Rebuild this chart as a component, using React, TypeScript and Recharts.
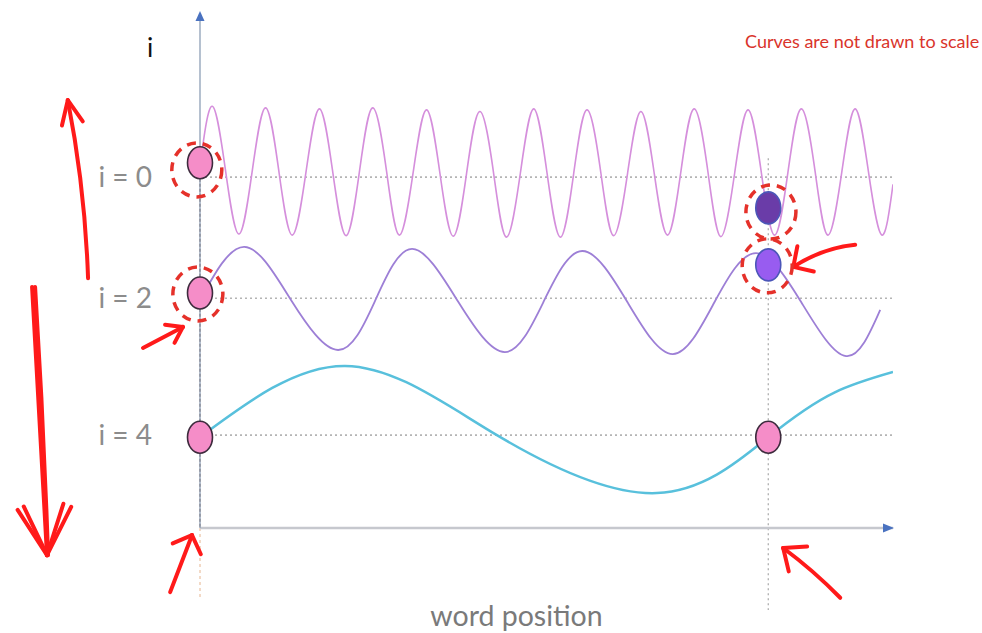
import React from 'react';
import { ComposedChart, Line, XAxis, YAxis, ReferenceLine, ReferenceDot } from 'recharts';

// word position runs 0..13, the vertical value scale 0..100
const fastWave = [
  [0, 70.5],
  [0.23, 82.2], [0.48, 69.6], [0.73, 57.3], [0.98, 69.6],
  [1.23, 81.9], [1.48, 69.5], [1.73, 57.1], [1.99, 69.5],
  [2.24, 81.7], [2.49, 69.4], [2.74, 57.0], [2.99, 69.4],
  [3.24, 81.9], [3.5, 69.5], [3.74, 57.1], [4.0, 69.4],
  [4.25, 81.5], [4.5, 69.2], [4.75, 56.9], [5.0, 69.1],
  [5.25, 81.2], [5.51, 69.0], [5.75, 56.7], [6.01, 69.2],
  [6.26, 81.7], [6.51, 69.2], [6.76, 56.7], [7.01, 69.1],
  [7.26, 81.5], [7.52, 69.2], [7.76, 57.0], [8.02, 69.1],
  [8.27, 81.2], [8.52, 69.2], [8.77, 57.1], [9.02, 69.4],
  [9.27, 81.7], [9.53, 69.3], [9.77, 56.8], [10.03, 69.2],
  [10.28, 81.5], [10.53, 69.3], [10.78, 57.1], [11.03, 69.4],
  [11.28, 81.7], [11.54, 69.4], [11.78, 57.1], [12.04, 69.4],
  [12.29, 81.7], [12.54, 69.4], [12.79, 57.1], [13.0, 67.0],
];

const midWave = [
  [0, 44.4], [0.83, 54.8], [1.71, 44.4], [2.59, 34.7], [3.28, 44.2],
  [3.98, 54.4], [4.85, 44.0], [5.72, 34.3], [6.44, 44.0], [7.17, 54.0],
  [8.02, 44.0], [8.87, 33.9], [9.65, 44.0], [10.43, 53.6], [11.28, 44.0],
  [12.12, 33.5], [12.76, 42.5],
];

const slowWave = [
  [0, 17.7], [2.72, 31.6], [5.57, 18.1], [8.57, 6.8], [10.66, 17.7], [11.9, 26.4], [13.0, 30.4],
];

const levelValues = [68.4, 44.8, 18.1];
const levelLabels = ['i = 0', 'i = 2', 'i = 4'];

const probePosition = 10.66;

const pinkDots = [[0, 71.2], [0, 45.8], [0, 17.7], [10.66, 17.7]];
const purpleDots = [[10.66, 62.4], [10.66, 51.3]];
const highlightRings = [[-0.06, 69.8], [-0.04, 45.6], [10.71, 61.6], [10.64, 51.1]];

// hand drawn red arrows: tail -> tip
const handArrows = [
  { from: [-2.1, 48.7], to: [-2.48, 83.4] },
  { from: [-3.15, 47.0], to: [-2.87, -5.3] },
  { from: [-1.07, 35.1], to: [-0.32, 39.2] },
  { from: [-0.56, -12.5], to: [-0.15, -1.4] },
  { from: [12.29, 55.2], to: [11.13, 50.9] },
  { from: [12.01, -13.6], to: [10.94, -3.9] },
];

const arrowLooks = [
  { head: 26, spread: 0.42, bend: 0.02, double: false },
  { head: 54, spread: 0.52, bend: 0, double: true },
  { head: 18, spread: 0.6, bend: 0, double: false },
  { head: 21, spread: 0.8, bend: 0, double: false },
  { head: 21, spread: 0.8, bend: 0.06, double: false },
  { head: 24, spread: 0.7, bend: 0.02, double: false },
];

const toPoints = (rows: number[][]) => rows.map(([x, y]) => ({ x, y }));

const RED = '#ff1a1a';

const makeArrow = (look: { head: number; spread: number; bend: number; double: boolean }) =>
  (props: any) => {
    const { x1, y1, x2, y2 } = props;
    const dx = x2 - x1;
    const dy = y2 - y1;
    const len = Math.hypot(dx, dy) || 1;
    const px = -dy / len;
    const py = dx / len;
    const mx = (x1 + x2) / 2 + px * look.bend * len;
    const my = (y1 + y2) / 2 + py * look.bend * len;
    const cx = 2 * mx - (x1 + x2) / 2;
    const cy = 2 * my - (y1 + y2) / 2;
    const back = Math.atan2(cy - y2, cx - x2);
    const arm = (a: number) => `M${x2 + Math.cos(a) * look.head},${y2 + Math.sin(a) * look.head} L${x2},${y2}`;
    const shaft = `M${x1},${y1} Q${cx},${cy} ${x2},${y2}`;
    return (
      <g fill="none" stroke={RED} strokeWidth={4} strokeLinecap="round" strokeLinejoin="round">
        <path d={shaft} />
        {look.double && <path d={`M${x1 + 3},${y1} Q${cx + 4},${cy} ${x2 + 1},${y2}`} />}
        <path d={arm(back + look.spread)} />
        <path d={arm(back - look.spread)} />
        {look.double && <path d={arm(back + look.spread * 0.7)} />}
        {look.double && <path d={arm(back - look.spread * 0.75)} />}
      </g>
    );
  };

const Ellipse = (fill: string, stroke: string) => (props: any) => (
  <ellipse cx={props.cx} cy={props.cy} rx={12.5} ry={16} fill={fill} stroke={stroke} strokeWidth={1.6} />
);

const Ring = (props: any) => (
  <ellipse cx={props.cx} cy={props.cy} rx={25} ry={27} fill="none" stroke="#e5312a" strokeWidth={3.5} strokeDasharray="9 7" />
);

const UpHead = (props: any) => (
  <polygon points={`${props.cx},${props.cy - 2} ${props.cx - 4.5},${props.cy + 8} ${props.cx + 4.5},${props.cy + 8}`} fill="#4a72c0" />
);

const RightHead = (props: any) => (
  <polygon points={`${props.cx + 1},${props.cy} ${props.cx - 10},${props.cy - 4.5} ${props.cx - 10},${props.cy + 4.5}`} fill="#4a72c0" />
);

export default function App() {
  return (
    <div style={{ position: 'absolute', left: 0, top: 0, width: 982, height: 633, background: '#fff', fontFamily: 'Lato, sans-serif' }}>
      <ComposedChart width={982} height={633} margin={{ top: 15, right: 89, bottom: 0, left: 0 }}>
        <XAxis
          type="number"
          dataKey="x"
          domain={[0, 13]}
          allowDataOverflow
          tick={false}
          tickLine={false}
          height={105}
          axisLine={{ stroke: '#c6c8ce', strokeWidth: 2.5 }}
          label={{ value: 'word position', position: 'insideBottom', offset: 7, dx: -30, fill: '#7a7a7a', fontSize: 28.5 }}
        />
        <YAxis
          type="number"
          domain={[0, 100]}
          allowDataOverflow
          width={200}
          ticks={levelValues}
          interval={0}
          tickFormatter={(v: number) => levelLabels[levelValues.indexOf(v)]}
          tick={{ fill: '#8c8c8c', fontSize: 28 }}
          tickLine={false}
          tickMargin={42}
          axisLine={{ stroke: '#8497b0', strokeWidth: 1.2 }}
        />

        {levelValues.map((v) => (
          <ReferenceLine key={v} y={v} stroke="#b4b4b4" strokeWidth={1.6} strokeDasharray="2 3" ifOverflow="visible" />
        ))}
        <ReferenceLine
          segment={[{ x: probePosition, y: 72.1 }, { x: probePosition, y: -16 }]}
          stroke="#a8a8a8"
          strokeWidth={1.2}
          strokeDasharray="2 3"
          ifOverflow="visible"
        />
        <ReferenceLine segment={[{ x: 0, y: 71 }, { x: 0, y: 0 }]} stroke="#6b4a3a" strokeWidth={1} strokeDasharray="3 2" ifOverflow="visible" />
        <ReferenceLine segment={[{ x: 0, y: 0 }, { x: 0, y: -14 }]} stroke="#e6b48e" strokeWidth={1} strokeDasharray="3 3" ifOverflow="visible" />

        <Line data={toPoints(fastWave)} dataKey="y" type="natural" stroke="#d58fdc" strokeWidth={1.6} dot={false} activeDot={false} isAnimationActive={false} />
        <Line data={toPoints(midWave)} dataKey="y" type="natural" stroke="#9d7fd6" strokeWidth={1.8} dot={false} activeDot={false} isAnimationActive={false} />
        <Line data={toPoints(slowWave)} dataKey="y" type="natural" stroke="#58c0dc" strokeWidth={2.5} dot={false} activeDot={false} isAnimationActive={false} />

        <ReferenceDot x={0} y={100.4} ifOverflow="visible" shape={UpHead} />
        <ReferenceDot x={13} y={0} ifOverflow="visible" shape={RightHead} />

        {pinkDots.map(([x, y], i) => (
          <ReferenceDot key={`p${i}`} x={x} y={y} ifOverflow="visible" shape={Ellipse('#f58dc8', '#3d2b3d')} />
        ))}
        <ReferenceDot x={purpleDots[0][0]} y={purpleDots[0][1]} ifOverflow="visible" shape={Ellipse('#6a3ca8', '#4b56b8')} />
        <ReferenceDot x={purpleDots[1][0]} y={purpleDots[1][1]} ifOverflow="visible" shape={Ellipse('#985cf0', '#4b56b8')} />
        {highlightRings.map(([x, y], i) => (
          <ReferenceDot key={`r${i}`} x={x} y={y} ifOverflow="visible" shape={Ring} />
        ))}

        {handArrows.map((a, i) => (
          <ReferenceLine
            key={`a${i}`}
            segment={[{ x: a.from[0], y: a.from[1] }, { x: a.to[0], y: a.to[1] }]}
            ifOverflow="visible"
            shape={makeArrow(arrowLooks[i])}
          />
        ))}

        <text x={150} y={57} fontSize={26} fill="#111" textAnchor="middle">i</text>
        <text x={745} y={48} fontSize={18} fill="#d9342b">Curves are not drawn to scale</text>
      </ComposedChart>
    </div>
  );
}
